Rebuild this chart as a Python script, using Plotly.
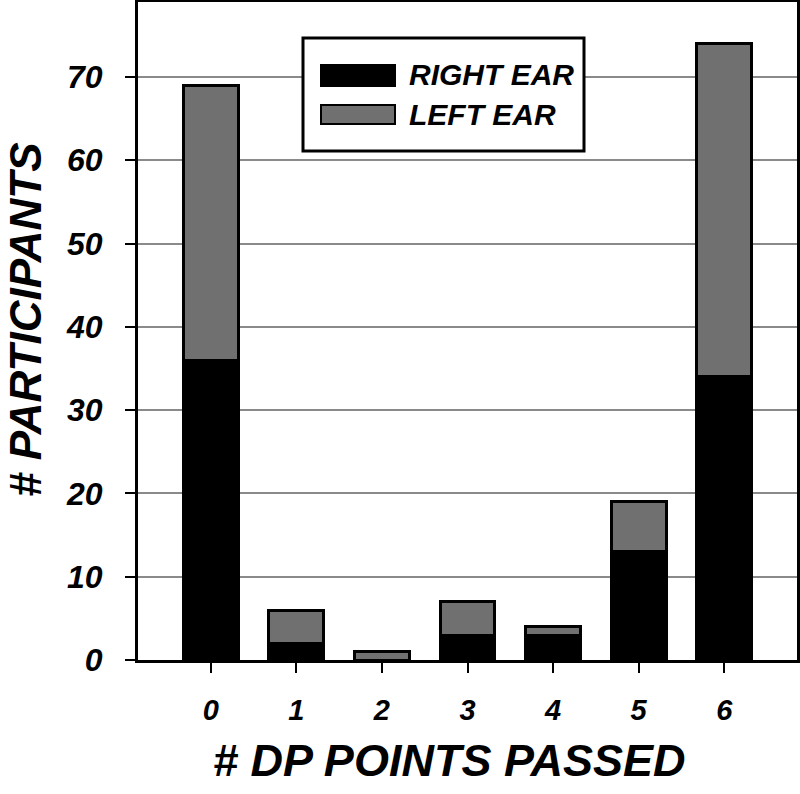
import plotly.graph_objects as go

categories = [0, 1, 2, 3, 4, 5, 6]
tick_labels = ["0", "1", "2", "3", "4", "5", "6"]
right_ear = [36, 2, 0, 3, 3, 13, 34]
left_ear = [33, 4, 1, 4, 1, 6, 40]
series_names = ["RIGHT EAR", "LEFT EAR"]
y_ticks = [0, 10, 20, 30, 40, 50, 60, 70]

BLACK = "#000000"
GRAY = "#707070"
REG = "Liberation Sans, Arial, sans-serif"

fig = go.Figure()
fig.add_trace(go.Bar(x=categories, y=right_ear, name=series_names[0], width=0.64,
                     marker=dict(color=BLACK, line=dict(color=BLACK, width=3))))
fig.add_trace(go.Bar(x=categories, y=left_ear, name=series_names[1], width=0.64,
                     marker=dict(color=GRAY, line=dict(color=BLACK, width=3))))

W, H = 800, 794
L, R, T, B = 138, 3, 2, 134
pw, ph = W - L - R, H - T - B

def px(x):
    return (x - L) / pw

def py(y):
    return (H - B - y) / ph

fig.update_layout(
    width=W, height=H, barmode="stack", showlegend=False,
    plot_bgcolor="white", paper_bgcolor="white",
    margin=dict(l=L, r=R, t=T, b=B, autoexpand=False),
    xaxis=dict(range=[-0.85, 6.85], tickmode="array", tickvals=categories, ticktext=tick_labels,
               ticks="outside", ticklen=10, tickwidth=2, tickcolor=BLACK, automargin=False,
               showline=True, linecolor=BLACK, linewidth=3, mirror=True, showgrid=False,
               ticklabelstandoff=12,
               tickfont=dict(family=REG, size=29, color=BLACK, weight=700, style="italic")),
    yaxis=dict(range=[0, 79], tickmode="array", tickvals=y_ticks,
               ticks="outside", ticklen=10, tickwidth=2, tickcolor=BLACK, automargin=False,
               showline=True, linecolor=BLACK, linewidth=3, mirror=True,
               showgrid=True, gridcolor="#8a8a8a", gridwidth=2, zeroline=False,
               ticklabelstandoff=16,
               tickfont=dict(family=REG, size=32, color=BLACK, weight=700, style="italic")),
)

fig.add_annotation(text="# DP POINTS PASSED", xref="paper", yref="paper", x=px(449), y=py(760),
                   showarrow=False, xanchor="center", yanchor="middle",
                   font=dict(family=REG, size=45, color=BLACK, weight=700, style="italic"))
fig.add_annotation(text="# PARTICIPANTS", xref="paper", yref="paper", x=px(25), y=py(320),
                   showarrow=False, xanchor="center", yanchor="middle", textangle=-90,
                   font=dict(family=REG, size=44, color=BLACK, weight=700, style="italic"))

# custom legend
fig.add_shape(type="rect", xref="paper", yref="paper", x0=px(303), x1=px(584), y0=py(151), y1=py(38),
              line=dict(color=BLACK, width=3), fillcolor="white", layer="above")
fig.add_shape(type="rect", xref="paper", yref="paper", x0=px(321), x1=px(395), y0=py(86), y1=py(65),
              line=dict(color=BLACK, width=2), fillcolor=BLACK, layer="above")
fig.add_shape(type="rect", xref="paper", yref="paper", x0=px(321), x1=px(395), y0=py(124), y1=py(105),
              line=dict(color=BLACK, width=2), fillcolor=GRAY, layer="above")
for name, yc in zip(series_names, [75, 114]):
    fig.add_annotation(text=name, xref="paper", yref="paper", x=px(407), y=py(yc),
                       showarrow=False, xanchor="left", yanchor="middle",
                       font=dict(family=REG, size=30, color=BLACK, weight=700, style="italic"))

fig.write_html("out.html", config={"displayModeBar": False},
               post_script="document.body.style.margin='0';")
